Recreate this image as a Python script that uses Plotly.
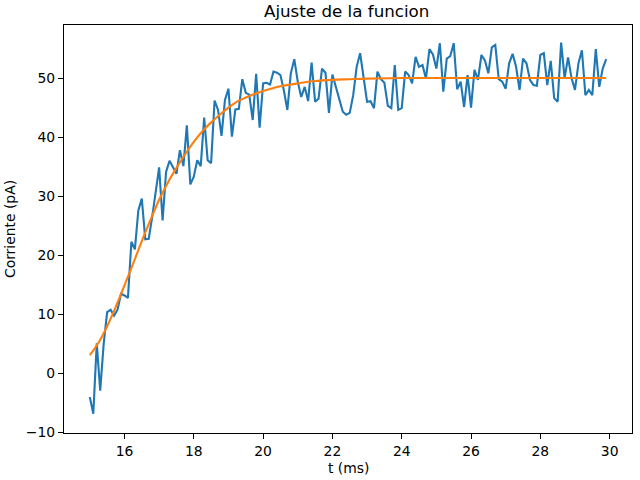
import plotly.graph_objects as go

# sample times (ms), 0.1 ms steps from 15.0 to 29.9
t = [round(15.0 + 0.1 * i, 1) for i in range(150)]

corriente = [
    -4.0, -6.8, 5.1, -2.9, 5.0, 10.4, 10.8, 9.8, 10.8, 13.5,
    13.2, 12.8, 22.3, 21.0, 27.6, 29.6, 22.7, 22.8, 26.5, 30.5,
    34.9, 25.9, 34.1, 36.0, 34.8, 33.8, 37.8, 35.1, 42.0, 32.0,
    33.3, 36.1, 35.1, 43.3, 36.1, 35.6, 46.2, 44.6, 40.2, 46.3,
    48.2, 40.1, 44.7, 44.8, 49.8, 47.5, 47.2, 42.9, 50.7, 41.6,
    49.1, 49.2, 48.9, 51.1, 50.9, 50.5, 47.9, 44.6, 50.8, 53.2,
    49.4, 46.8, 48.5, 46.1, 52.6, 46.0, 46.5, 51.6, 50.9, 44.1,
    50.6, 48.5, 46.5, 44.3, 43.8, 44.1, 47.1, 51.9, 54.2, 50.2,
    46.0, 46.1, 44.9, 51.1, 49.8, 49.2, 45.3, 44.9, 52.2, 44.6,
    44.9, 51.1, 50.5, 49.1, 53.6, 51.9, 52.2, 49.9, 54.9, 54.0,
    51.6, 55.9, 47.7, 53.3, 53.7, 55.9, 48.1, 49.4, 45.1, 50.5,
    45.0, 51.4, 49.7, 53.9, 53.0, 50.8, 55.2, 55.6, 49.8, 49.4,
    48.2, 52.5, 54.1, 51.9, 48.0, 53.3, 52.5, 49.7, 48.8, 48.7,
    53.9, 54.2, 48.8, 52.9, 46.6, 46.0, 56.0, 50.0, 53.5, 50.0,
    48.0, 52.5, 54.7, 47.1, 48.0, 47.1, 54.9, 48.5, 51.6, 53.2,
]

# fitted curve
t_fit = [15.0, 15.25, 15.5, 15.75, 16.0, 16.25, 16.5, 16.75, 17.0, 17.25,
         17.5, 17.75, 18.0, 18.25, 18.5, 18.75, 19.0, 19.25, 19.5, 19.75,
         20.0, 20.5, 21.0, 21.5, 22.0, 22.5, 23.0, 24.0, 25.0, 26.0,
         27.0, 28.0, 29.0, 29.9]
ajuste = [3.1, 5.2, 8.0, 11.3, 14.9, 18.6, 22.4, 26.0, 29.4, 32.3,
          34.8, 37.1, 39.2, 41.0, 42.5, 43.8, 45.0, 46.0, 46.7, 47.3,
          47.8, 48.6, 49.1, 49.5, 49.7, 49.8, 49.9, 50.0, 50.0, 50.0,
          50.0, 50.0, 50.0, 50.0]

FONT = dict(family="DejaVu Sans", size=13.9, color="black")

fig = go.Figure()
fig.add_trace(go.Scatter(x=t, y=corriente, mode="lines",
                         line=dict(color="#1f77b4", width=2.1), name="datos"))
fig.add_trace(go.Scatter(x=t_fit, y=ajuste, mode="lines", line_shape="spline",
                         line=dict(color="#ff7f0e", width=2.1), name="ajuste"))

axis_style = dict(showline=True, linecolor="black", linewidth=1.1, mirror=True,
                  ticks="outside", ticklen=5, tickwidth=1.1, tickcolor="black",
                  showgrid=False, zeroline=False, automargin=False, tickfont=FONT)

fig.update_xaxes(range=[14.255, 30.645], tickvals=[16, 18, 20, 22, 24, 26, 28, 30], **axis_style)
fig.update_yaxes(range=[-10.07, 58.98], tickvals=[-10, 0, 10, 20, 30, 40, 50], **axis_style)

# axis labels placed like matplotlib does
fig.add_annotation(text="t (ms)", xref="paper", yref="paper", x=0.5, y=-0.085,
                   yanchor="middle", showarrow=False, font=FONT)
fig.add_annotation(text="Corriente (pA)", xref="paper", yref="paper", x=-0.095, y=0.5,
                   xanchor="center", textangle=-90, showarrow=False, font=FONT)

fig.update_layout(
    width=640, height=480,
    margin=dict(l=63.5, r=7.7, t=25, b=47.3),
    paper_bgcolor="white", plot_bgcolor="white",
    showlegend=False,
    title=dict(text="Ajuste de la funcion", x=0.5417, xanchor="center",
               y=1 - 11 / 480, yanchor="middle",
               font=dict(family="DejaVu Sans", size=16.7, color="black")),
)

# drop the default page margin so the figure sits at the window corner
fig.write_html("out.html", config={"displayModeBar": False},
               post_script="document.body.style.margin = '0';")
